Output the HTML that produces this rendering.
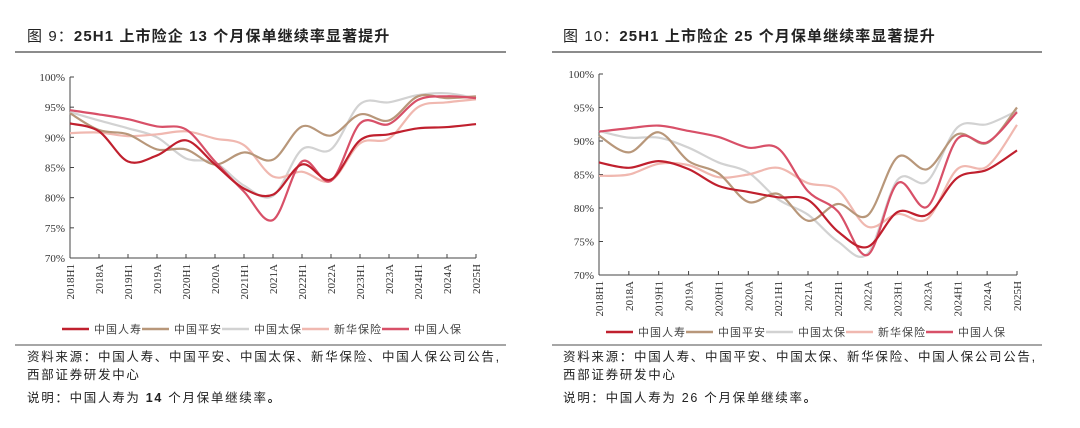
<!DOCTYPE html>
<html><head><meta charset="utf-8"><style>
body{margin:0;background:#fff;width:1080px;height:428px;overflow:hidden;font-family:"Liberation Sans","Noto Sans CJK SC",sans-serif}
svg{position:absolute;left:0;top:0}
</style></head><body>
<svg id="s" width="1080" height="428" xmlns="http://www.w3.org/2000/svg">
<g font-family="Liberation Sans, Noto Sans CJK SC, sans-serif" fill="#222">
<text x="27" y="41" font-size="15" letter-spacing="1.1">图 9：<tspan font-weight="bold">25H1 上市险企 13 个月保单继续率显著提升</tspan></text>
<text x="563" y="41" font-size="15" letter-spacing="1.1">图 10：<tspan font-weight="bold">25H1 上市险企 25 个月保单继续率显著提升</tspan></text>
<line x1="15" y1="52" x2="506" y2="52" stroke="#666" stroke-width="1.5"/>
<line x1="552" y1="52" x2="1042" y2="52" stroke="#666" stroke-width="1.5"/>
<line x1="15" y1="345" x2="506" y2="345" stroke="#888" stroke-width="1.5"/>
<line x1="552" y1="345" x2="1042" y2="345" stroke="#888" stroke-width="1.5"/>
<g letter-spacing="1.7" font-size="12.5">
<text x="27" y="361">资料来源：中国人寿、中国平安、中国太保、新华保险、中国人保公司公告,</text>
<text x="27" y="379">西部证券研发中心</text>
<text x="27" y="402">说明：中国人寿为 <tspan font-weight="bold">14</tspan> 个月保单继续率<tspan font-weight="bold">。</tspan></text>
<text x="563" y="361">资料来源：中国人寿、中国平安、中国太保、新华保险、中国人保公司公告,</text>
<text x="563" y="379">西部证券研发中心</text>
<text x="563" y="402">说明：中国人寿为 26 个月保单继续率<tspan font-weight="bold">。</tspan></text>
</g>
</g>
<g id="c"></g>
</svg>
<script>
const NS="http://www.w3.org/2000/svg",g=document.getElementById('c');
function el(t,a,txt){const e=document.createElementNS(NS,t);for(const k in a)e.setAttribute(k,a[k]);if(txt!=null)e.textContent=txt;g.appendChild(e);return e}
const cats=["2018H1","2018A","2019H1","2019A","2020H1","2020A","2021H1","2021A","2022H1","2022A","2023H1","2023A","2024H1","2024A","2025H"];
const names=["中国人寿","中国平安","中国太保","新华保险","中国人保"];
const cols=["#c0202e","#b8977a","#d2d2d2","#f0b8b0","#d85068"];
const order=[2,3,1,4,0];
function chart(x0,x1,yTop,yBot,data,legY,legX){
 const step=(x1-x0)/14,py=v=>yBot-(v-70)/30*(yBot-yTop);
 el('line',{x1:x0,y1:yTop,x2:x0,y2:yBot,stroke:'#444'});
 el('line',{x1:x0,y1:yBot,x2:x1,y2:yBot,stroke:'#444'});
 for(let v=70;v<=100;v+=5){const y=py(v);el('line',{x1:x0,y1:y,x2:x0+4,y2:y,stroke:'#444'});
  el('text',{x:x0-5,y:y+4,'font-size':11,'text-anchor':'end','font-family':'Liberation Serif,serif',fill:'#333'},v+'%');}
 cats.forEach((c,i)=>{const x=x0+i*step;if(i>0)el('line',{x1:x,y1:yBot,x2:x,y2:yBot-4,stroke:'#444'});
  el('text',{transform:`translate(${x+4},${yBot+6}) rotate(-90)`,'font-size':11,'text-anchor':'end','font-family':'Liberation Serif,serif',fill:'#333'},c);});
 order.forEach(k=>{const p=data[k].map((v,i)=>[x0+i*step,py(v)]);let d=`M${p[0][0]},${p[0][1]}`;
  for(let i=0;i<p.length-1;i++){const a=p[i-1]||p[i],b=p[i],c=p[i+1],e=p[i+2]||c;
   d+=`C${b[0]+(c[0]-a[0])/6},${b[1]+(c[1]-a[1])/6} ${c[0]-(e[0]-b[0])/6},${c[1]-(e[1]-b[1])/6} ${c[0]},${c[1]}`;}
  el('path',{d,fill:'none',stroke:cols[k],'stroke-width':2.2});});
 legX.forEach((lx,k)=>{el('line',{x1:lx,y1:legY,x2:lx+27,y2:legY,stroke:cols[k],'stroke-width':2.5});
  el('text',{x:lx+32,y:legY+4,'font-size':11,fill:'#444','letter-spacing':1},names[k]);});
}
chart(70,476,77,258,[
[92.3,91,86,87,89.5,85.5,81.5,80.5,85.5,83,89.5,90.5,91.5,91.7,92.2],
[94,91.2,90.5,88,88,85.5,87.5,86.3,91.8,90.3,93.8,92.8,96.8,96.5,96.8],
[94.2,92.8,91.5,90,86.5,85.8,82,80.3,88,88,95.5,95.8,97,97.3,96.5],
[90.7,90.8,90.2,90.5,91,89.8,88.7,83.5,84.3,82.8,89,89.8,95,95.8,96.3],
[94.5,93.8,93,91.8,91.3,86,81,76.3,86,82.8,92.3,92.2,96.2,96.8,96.5]],329,[62,142,222,302,382]);
chart(599,1017,74,275,[
[86.8,86,87,85.8,83.3,82.4,81.6,81.2,76.5,74.2,79.4,79,84.5,85.7,88.6],
[90.8,88.3,91.3,87,85.2,80.9,82.1,78.1,80.6,78.9,87.6,85.8,91,89.7,95],
[91.5,90.5,90.5,89,86.8,85.3,81.3,79,75,73.2,84.2,84,92,92.5,94.5],
[84.8,85,86.6,86.4,84.6,85,86,83.7,82.7,77.2,79.1,78.4,85.8,86.2,92.4],
[91.4,91.9,92.3,91.5,90.6,89,88.9,82.5,79.5,73,83.7,80.2,90.3,89.8,94.3]],332,[606,686,766,846,926]);
</script>
</body></html>
